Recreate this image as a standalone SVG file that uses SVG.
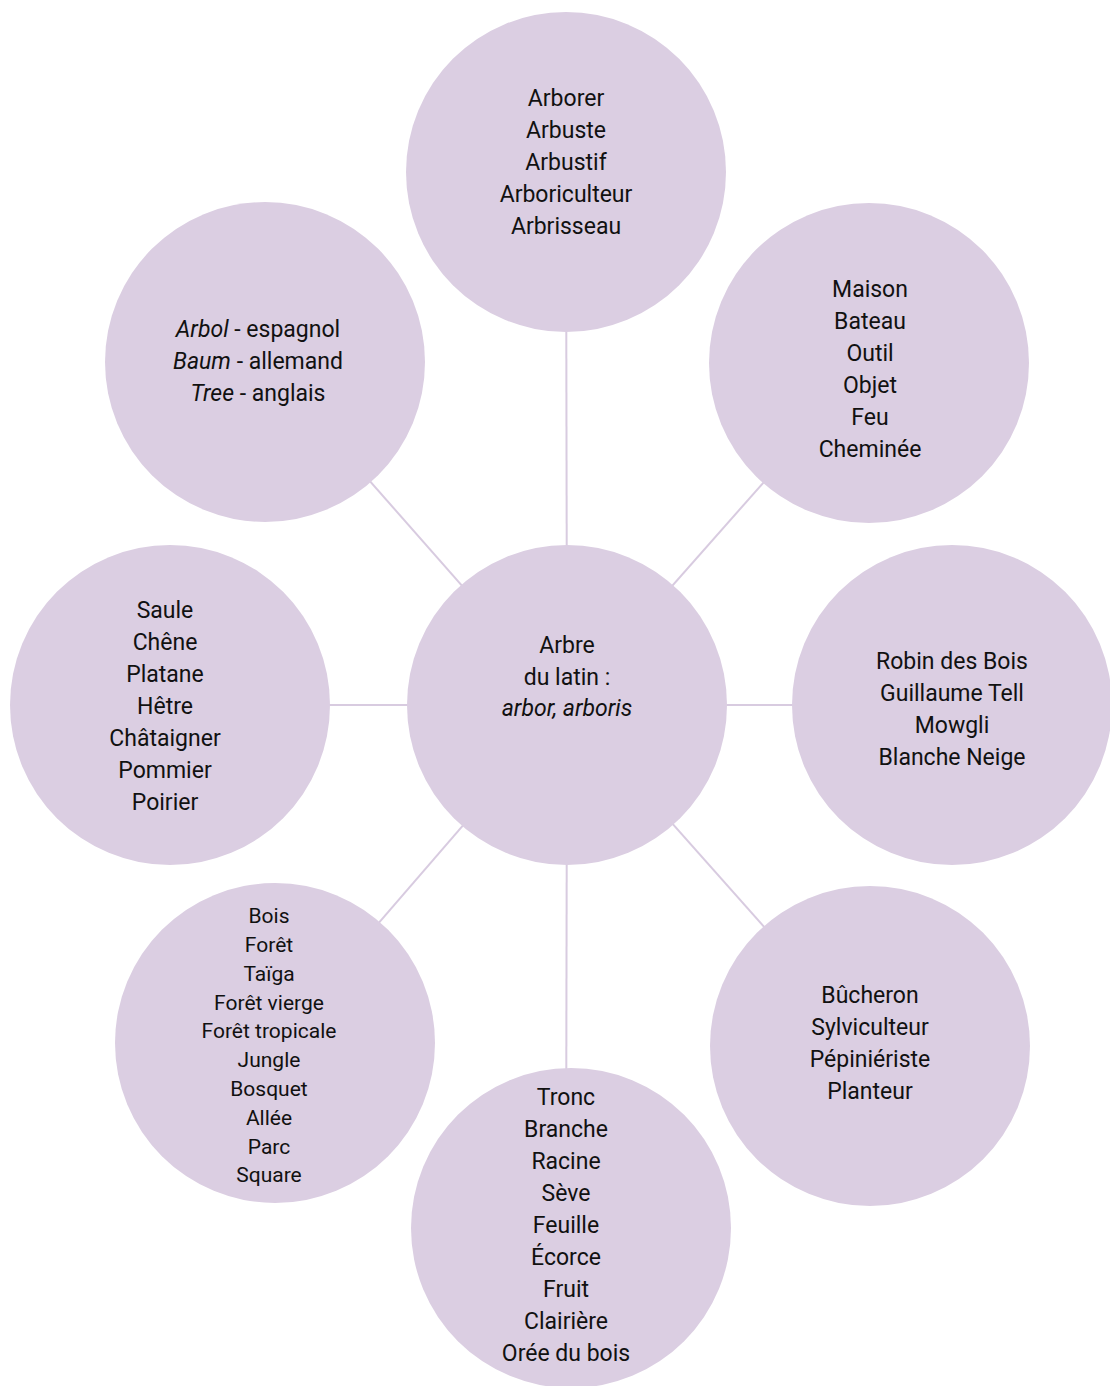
<svg xmlns="http://www.w3.org/2000/svg" width="1110" height="1386" viewBox="0 0 1110 1386">
<style>
.n{fill:#dbcee2}
.c line{stroke:#d8cbe0;stroke-width:2}
text{font-family:Roboto,"Liberation Sans",sans-serif;font-size:23px;fill:#111;text-anchor:middle}
.s{font-size:21px}
.i{font-style:italic}
</style>
<rect width="1110" height="1386" fill="#fff"/>
<g id="connectors" class="c">
<line x1="567" y1="705" x2="566" y2="172"/>
<line x1="567" y1="705" x2="869" y2="363"/>
<line x1="567" y1="705" x2="952" y2="705"/>
<line x1="567" y1="705" x2="870" y2="1046"/>
<line x1="567" y1="705" x2="566" y2="1228"/>
<line x1="567" y1="705" x2="275" y2="1043"/>
<line x1="567" y1="705" x2="170" y2="705"/>
<line x1="567" y1="705" x2="265" y2="362"/>
</g>
<g id="center">
<circle class="n" cx="567" cy="705" r="160"/>
<text x="567" y="653">Arbre</text>
<text x="567" y="685">du latin :</text>
<text x="567" y="716" class="i">arbor, arboris</text>
</g>
<g id="top">
<circle class="n" cx="566" cy="172" r="160"/>
<text x="566" y="106">Arborer</text>
<text x="566" y="138">Arbuste</text>
<text x="566" y="170">Arbustif</text>
<text x="566" y="202">Arboriculteur</text>
<text x="566" y="234">Arbrisseau</text>
</g>
<g id="top-right">
<circle class="n" cx="869" cy="363" r="160"/>
<text x="870" y="297">Maison</text>
<text x="870" y="329">Bateau</text>
<text x="870" y="361">Outil</text>
<text x="870" y="393">Objet</text>
<text x="870" y="425">Feu</text>
<text x="870" y="457">Cheminée</text>
</g>
<g id="right">
<circle class="n" cx="952" cy="705" r="160"/>
<text x="952" y="669">Robin des Bois</text>
<text x="952" y="701">Guillaume Tell</text>
<text x="952" y="733">Mowgli</text>
<text x="952" y="765">Blanche Neige</text>
</g>
<g id="bottom-right">
<circle class="n" cx="870" cy="1046" r="160"/>
<text x="870" y="1003">Bûcheron</text>
<text x="870" y="1035">Sylviculteur</text>
<text x="870" y="1067">Pépiniériste</text>
<text x="870" y="1099">Planteur</text>
</g>
<g id="bottom">
<circle class="n" cx="571" cy="1228" r="160"/>
<text x="566" y="1105">Tronc</text>
<text x="566" y="1137">Branche</text>
<text x="566" y="1169">Racine</text>
<text x="566" y="1201">Sève</text>
<text x="566" y="1233">Feuille</text>
<text x="566" y="1265">Écorce</text>
<text x="566" y="1297">Fruit</text>
<text x="566" y="1329">Clairière</text>
<text x="566" y="1361">Orée du bois</text>
</g>
<g id="bottom-left">
<circle class="n" cx="275" cy="1043" r="160"/>
<text x="269" y="923" class="s">Bois</text>
<text x="269" y="952" class="s">Forêt</text>
<text x="269" y="981" class="s">Taïga</text>
<text x="269" y="1010" class="s">Forêt vierge</text>
<text x="269" y="1038" class="s">Forêt tropicale</text>
<text x="269" y="1067" class="s">Jungle</text>
<text x="269" y="1096" class="s">Bosquet</text>
<text x="269" y="1125" class="s">Allée</text>
<text x="269" y="1154" class="s">Parc</text>
<text x="269" y="1182" class="s">Square</text>
</g>
<g id="left">
<circle class="n" cx="170" cy="705" r="160"/>
<text x="165" y="618">Saule</text>
<text x="165" y="650">Chêne</text>
<text x="165" y="682">Platane</text>
<text x="165" y="714">Hêtre</text>
<text x="165" y="746">Châtaigner</text>
<text x="165" y="778">Pommier</text>
<text x="165" y="810">Poirier</text>
</g>
<g id="top-left">
<circle class="n" cx="265" cy="362" r="160"/>
<text x="258" y="337"><tspan class="i">Arbol</tspan> - espagnol</text>
<text x="258" y="369"><tspan class="i">Baum</tspan> - allemand</text>
<text x="258" y="401"><tspan class="i">Tree</tspan> - anglais</text>
</g>
</svg>
